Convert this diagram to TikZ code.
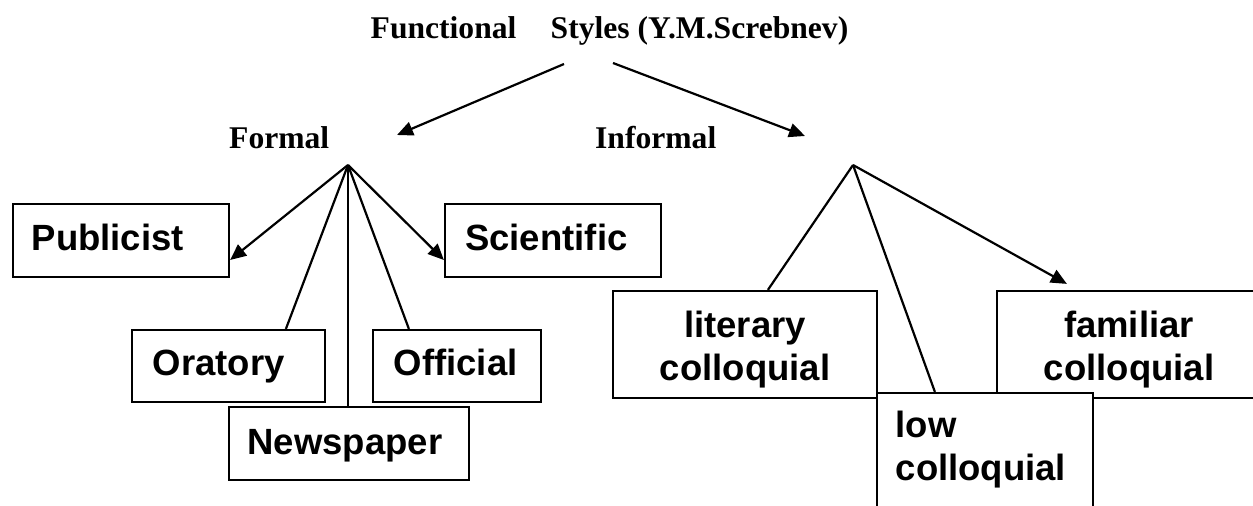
\documentclass[tikz,border=0pt]{standalone}
\usepackage{fontspec}
\setmainfont{Liberation Serif}
\newfontfamily\boxfont{Liberation Sans}
\usetikzlibrary{arrows.meta}
\begin{document}
\begin{tikzpicture}[x=1pt,y=-1pt,
  box/.style={draw, line width=2.2pt, fill=white, inner sep=0pt},
  conn/.style={line width=2.2pt},
  arr/.style={conn, -{Triangle[length=16pt,width=14pt]}},
  lbl/.style={inner sep=0pt, font=\boxfont\bfseries\fontsize{36.5}{43}\selectfont},
  head/.style={inner sep=0pt, font=\bfseries\fontsize{31.6}{38}\selectfont}]
\useasboundingbox (0,0) rectangle (1253,506);
\clip (0,0) rectangle (1253,506);
\fill[white] (0,0) rectangle (1253,506);

% headings
\node[head, anchor=base west] (title) at (370.5,38.5) {Functional\hspace{34.3pt}Styles (Y.M.Screbnev)};
\node[head, anchor=base west] (formal) at (229,148) {Formal};
\node[head, anchor=base west] (informal) at (595,148) {Informal};

% connector points
\coordinate (t1) at (564,64);
\coordinate (t2) at (613,63);
\coordinate (fend) at (397,135);
\coordinate (iend) at (805,136);
\coordinate (fa) at (348,165);
\coordinate (ia) at (853,165);

% formal boxes
\node[box, minimum width=216pt, minimum height=73pt] (pub) at (121,240.5) {};
\node[box, minimum width=216pt, minimum height=73pt] (sci) at (553,240.5) {};
\node[box, minimum width=193pt, minimum height=72pt] (ora) at (228.5,366) {};
\node[box, minimum width=168pt, minimum height=72pt] (off) at (457,366) {};
\node[box, minimum width=240pt, minimum height=73pt] (news) at (349,443.5) {};

% informal boxes
\node[box, minimum width=264pt, minimum height=107pt] (lit) at (745,344.5) {};
\node[box, minimum width=264pt, minimum height=107pt] (fam) at (1129,344.5) {};
\node[box, minimum width=216pt, minimum height=127pt] (low) at (985,456.5) {};

% texts
\node[lbl, anchor=base west] (pubt) at (31.5,250.7) {Publicist};
\node[lbl, anchor=base west] (scit) at (465,250.7) {Scientific};
\node[lbl, anchor=base west] (orat) at (152.6,375) {Oratory};
\node[lbl, anchor=base west] (offt) at (393.6,375) {Official};
\node[lbl, anchor=base west] (newst) at (247.3,454) {Newspaper};
\node[lbl, anchor=base] (litt) at (745,337) {\begin{tabular}[t]{@{}c@{}}literary\\colloquial\end{tabular}};
\node[lbl, anchor=base] (famt) at (1129,337) {\begin{tabular}[t]{@{}c@{}}familiar\\colloquial\end{tabular}};
\node[lbl, anchor=base west] (lowt) at (895.5,437.5) {\begin{tabular}[t]{@{}l@{}}low\\colloquial\end{tabular}};

% connectors
\draw[arr] (t1) -- (fend);
\draw[arr] (t2) -- (iend);
\draw[arr] (fa) -- ([yshift=-19.5pt]pub.east);
\draw[conn] (fa) -- ([xshift=155pt]ora.north west);
\draw[conn] (fa) -- ([xshift=-1pt]news.north);
\draw[conn] (fa) -- ([xshift=37pt]off.north west);
\draw[arr] (fa) -- ([yshift=-19.5pt]sci.west);
\draw[conn] (ia) -- ([xshift=156pt]lit.north west);
\draw[conn] (ia) -- ([xshift=59pt]low.north west);
\draw[arr] (ia) -- ([xshift=71pt,yshift=6pt]fam.north west);
\end{tikzpicture}
\end{document}
